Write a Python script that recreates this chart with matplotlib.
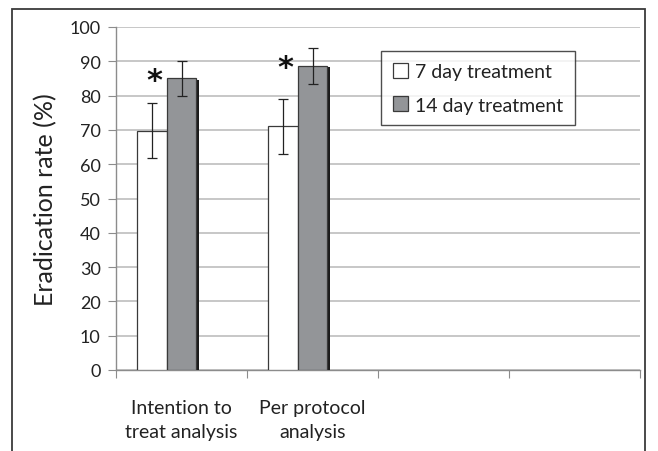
import matplotlib
matplotlib.use("Agg")
import matplotlib.pyplot as plt
import matplotlib.patheffects as pe
from matplotlib.patches import Rectangle
import numpy as np

plt.rcParams['font.family'] = ['Lato', 'DejaVu Sans']

categories = ["Intention to\ntreat analysis", "Per protocol\nanalysis", "", ""]
series_names = ["7 day treatment", "14 day treatment"]
values_7 = [69.7, 71.0]
err_7 = [8.0, 8.0]
values_14 = [85.0, 88.7]
err_14 = [5.0, 5.2]
sig_marks = ["*", "*"]

fig = plt.figure(figsize=(6.58, 4.52), dpi=100)
ax = fig.add_axes([116/658, 1-371/452, (640-116)/658, (371-28)/452])

x = np.arange(len(categories))
w = 0.225
xd = x[:len(values_7)]
shadow = [pe.SimplePatchShadow(offset=(2.2, -1.2), shadow_rgbFace='#1a1a1a', alpha=1), pe.Normal()]
b1 = ax.bar(xd - w, values_7, w, color='white', edgecolor='#3a3a3a', linewidth=0.9,
            label=series_names[0], zorder=3)
b2 = ax.bar(xd, values_14, w, color='#939598', edgecolor='#3a3a3a', linewidth=0.9,
            label=series_names[1], zorder=3)
for b in b2:
    b.set_path_effects(shadow)
ax.errorbar(xd - w, values_7, yerr=err_7, fmt='none', ecolor='#222222', elinewidth=0.9,
            capsize=3.5, capthick=0.9, zorder=4)
ax.errorbar(xd, values_14, yerr=err_14, fmt='none', ecolor='#222222', elinewidth=0.9,
            capsize=3.5, capthick=0.9, zorder=4)
for xi, v, m in zip(xd, values_14, sig_marks):
    ax.text(xi - 0.21, v - 0.5, m, ha='center', va='center', fontsize=22,
            fontweight='bold', family='DejaVu Sans', color='#111111', zorder=5)

ax.set_xlim(-0.5, len(categories) - 0.5)
ax.set_ylim(0, 100)
ax.set_yticks(np.arange(0, 101, 10))
ax.set_xticks(np.arange(-0.5, len(categories), 1.0))
ax.set_xticklabels([])
ax.set_xticks(x, minor=True)
ax.set_xticklabels(categories, minor=True, fontsize=14, color='#222222', linespacing=1.5)
ax.tick_params(axis='x', which='minor', length=0, pad=21)
ax.tick_params(axis='x', which='major', length=6, color='#8c8c8c', direction='out')
ax.tick_params(axis='y', length=6, color='#8c8c8c', labelsize=13, labelcolor='#222222', pad=5)
ax.grid(axis='y', color='#b8b8b8', linewidth=1.1, zorder=0)
ax.set_axisbelow(True)
for s in ['top', 'right']:
    ax.spines[s].set_visible(False)
for s in ['left', 'bottom']:
    ax.spines[s].set_color('#8c8c8c')
    ax.spines[s].set_linewidth(1.0)
ax.set_ylabel("Eradication rate (%)", fontsize=18, color='#222222', labelpad=9)

leg = ax.legend(loc='upper left', bbox_to_anchor=((381-116)/524, (371-52)/343),
                fontsize=14, frameon=True, fancybox=False, edgecolor='#222222',
                handlelength=0.8, handleheight=0.8, handletextpad=0.35,
                borderpad=0.6, labelspacing=0.85, borderaxespad=0)
leg.get_frame().set_linewidth(1.0)
for h in leg.legend_handles:
    h.set_path_effects([])
for t in leg.get_texts():
    t.set_color('#222222')

fig.patches.append(Rectangle((12/658, -0.1), (645-12)/658, 1.1 - 10/452,
                             transform=fig.transFigure, fill=False,
                             edgecolor='#3a3a3a', linewidth=1.3))

fig.savefig("out.png", dpi=100)
